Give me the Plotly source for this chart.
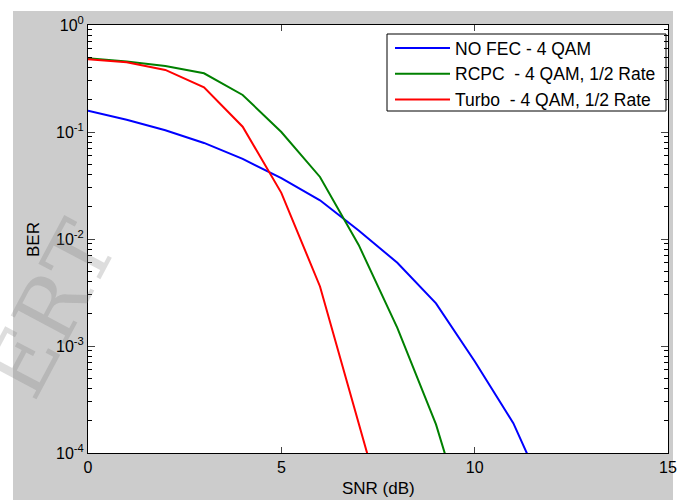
import plotly.graph_objects as go

snr_nofec = [0, 1, 2, 3, 4, 5, 6, 7, 8, 9, 10, 11, 12]
ber_nofec = [0.158, 0.130, 0.104, 0.079, 0.056, 0.037, 0.023, 0.012, 0.0060, 0.0025, 0.00072, 0.00019, 0.00003]

snr_rcpc = [0, 1, 2, 3, 4, 5, 6, 7, 8, 9, 10]
ber_rcpc = [0.489, 0.457, 0.414, 0.354, 0.222, 0.100, 0.038, 0.0088, 0.00148, 0.000185, 0.000012]

snr_turbo = [0, 1, 2, 3, 4, 5, 6, 7, 8]
ber_turbo = [0.478, 0.448, 0.38, 0.262, 0.112, 0.027, 0.0036, 0.0002, 0.00001]

names = ["NO FEC - 4 QAM",
         "RCPC\u00a0\u00a0- 4 QAM, 1/2 Rate",
         "Turbo\u00a0\u00a0- 4 QAM, 1/2 Rate"]
colors = ["#0000ff", "#008000", "#ff0000"]

xticks = [0, 5, 10, 15]
yticks = [1e-4, 1e-3, 1e-2, 1e-1, 1e0]
yticktext = ["10<sup>-4</sup>", "10<sup>-3</sup>", "10<sup>-2</sup>", "10<sup>-1</sup>", "10<sup>0</sup>"]
yminor = [m * d for d in [1e-4, 1e-3, 1e-2, 1e-1] for m in range(2, 10)]

fig = go.Figure()
for xs, ys, nm, c in zip([snr_nofec, snr_rcpc, snr_turbo],
                         [ber_nofec, ber_rcpc, ber_turbo], names, colors):
    fig.add_trace(go.Scatter(x=xs, y=ys, mode="lines", name=nm,
                             line=dict(color=c, width=2)))
# invisible helper trace so the minor-tick overlay axis is drawn
fig.add_trace(go.Scatter(x=[None], y=[None], yaxis="y2", showlegend=False,
                         hoverinfo="skip"))

font = "Liberation Sans, Arial, sans-serif"
L, R, T, B = 88, 24, 25, 47
PW, PH = 692 - L - R, 500 - T - B

def px(x):
    return (x - L) / PW

def py(y):
    return 1 - (y - T) / PH

white = dict(fillcolor="white", line=dict(width=0), layer="below",
             type="rect", xref="paper", yref="paper")
fig.update_layout(
    width=692, height=500,
    margin=dict(l=L, r=R, t=T, b=B),
    paper_bgcolor="#cccccc",
    plot_bgcolor="white",
    font=dict(family=font, size=16, color="black"),
    showlegend=True,
    legend=dict(x=px(390), y=py(30), xanchor="left", yanchor="top",
                bgcolor="rgba(0,0,0,0)", borderwidth=0,
                font=dict(size=17.5, family=font), itemwidth=55,
                tracegroupgap=0),
    shapes=[
        dict(white, x0=px(-5), x1=px(13), y0=py(510), y1=py(-5)),
        dict(white, x0=px(-5), x1=px(700), y0=py(11), y1=py(-5)),
        dict(white, x0=px(673), x1=px(700), y0=py(510), y1=py(-5)),
        dict(type="rect", xref="paper", yref="paper",
             x0=px(387), x1=px(666), y0=py(111), y1=py(34),
             fillcolor="white", line=dict(color="black", width=1), layer="below"),
    ],
    annotations=[
        dict(text="ERT", xref="paper", yref="paper",
             x=px(50), y=py(310), xanchor="center", yanchor="middle",
             showarrow=False, textangle=-62,
             font=dict(family="DejaVu Serif", size=85,
                       color="rgba(120,120,120,0.25)")),
        dict(text="SNR (dB)", xref="paper", yref="paper",
             x=px(379), y=py(488), xanchor="center", yanchor="middle",
             showarrow=False, font=dict(size=17, family=font)),
        dict(text="BER", xref="paper", yref="paper",
             x=px(33), y=py(240), xanchor="center", yanchor="middle",
             showarrow=False, textangle=-90,
             font=dict(size=17, family=font)),
    ],
    yaxis2=dict(type="log", range=[-4, 0], overlaying="y", side="left",
                tickvals=yminor, ticks="inside", ticklen=4, tickcolor="black",
                showticklabels=False, showline=False, showgrid=False,
                zeroline=False, mirror="ticks", automargin=False),
)

fig.update_xaxes(range=[0, 15], tickvals=xticks, ticks="inside", ticklen=6,
                 showline=True, linecolor="black", linewidth=1, mirror="ticks",
                 showgrid=False, zeroline=False, automargin=False,
                 tickfont=dict(size=16))
fig.layout.yaxis.update(type="log", range=[-4, 0], tickvals=yticks, ticktext=yticktext,
                        ticks="inside", ticklen=7,
                        showline=True, linecolor="black", linewidth=1, mirror="ticks",
                        showgrid=False, zeroline=False, automargin=False,
                        tickfont=dict(size=16))

fig.write_html("out.html")
